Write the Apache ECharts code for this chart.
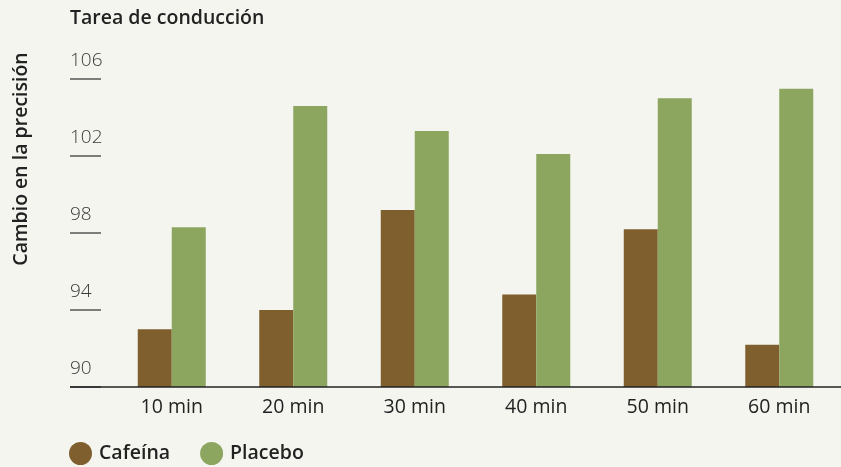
<!DOCTYPE html>
<html>
<head>
<meta charset="utf-8">
<script src="https://cdn.jsdelivr.net/npm/echarts@6/dist/echarts.min.js"></script>
<style>
html,body{margin:0;padding:0;background:#f5f5f0;}
#c{width:841px;height:467px;}
</style>
</head>
<body>
<div id="c"></div>
<script>
const categories = ['10 min', '20 min', '30 min', '40 min', '50 min', '60 min'];
const cafeina = [93.0, 94.0, 99.2, 94.8, 98.2, 92.2];
const placebo = [98.3, 104.6, 103.3, 102.1, 105.0, 105.5];
const seriesNames = ['Cafeína', 'Placebo'];
const chartTitle = 'Tarea de conducción';
const yTitle = 'Cambio en la precisión';

const FONT = '"Open Sans", "Noto Sans", sans-serif';
const chart = echarts.init(document.getElementById('c'), null, {renderer: 'canvas'});
const option = {
  backgroundColor: '#f5f5f0',
  animation: false,
  title: {
    text: chartTitle,
    left: 70, top: 8, padding: 0,
    textStyle: {fontFamily: FONT, fontSize: 19.5, fontWeight: 600, color: '#222'}
  },
  legend: {
    data: seriesNames,
    left: 69, top: 442, padding: 0,
    icon: 'circle',
    itemWidth: 23, itemHeight: 23,
    itemGap: 30,
    textStyle: {fontFamily: FONT, fontSize: 19.5, fontWeight: 600, color: '#222', padding: [0, 0, 0, 2]}
  },
  grid: {left: 111, right: 1, top: 79, bottom: 80, containLabel: false},
  xAxis: {
    type: 'category',
    data: categories,
    axisLine: {show: false},
    axisTick: {show: false},
    axisLabel: {fontFamily: FONT, fontSize: 19.5, color: '#222', margin: 10}
  },
  yAxis: {
    type: 'value',
    min: 90, max: 106, interval: 4,
    offset: 10,
    splitLine: {show: false},
    axisLine: {show: false},
    axisTick: {show: true, length: 31, lineStyle: {color: '#555', width: 1.5}},
    axisLabel: {
      fontFamily: FONT, fontSize: 19, fontWeight: 300, color: '#3a3a3a',
      align: 'left', verticalAlign: 'bottom', margin: 31,
      lineHeight: 19, padding: [0, 0, 9, 0]
    }
  },
  series: [
    {name: seriesNames[0], type: 'bar', data: cafeina, barWidth: 34, barGap: '0%',
     itemStyle: {color: '#7f5f2e'}},
    {name: seriesNames[1], type: 'bar', data: placebo, barWidth: 34, barGap: '0%',
     itemStyle: {color: '#8ca55f'}}
  ]
};
chart.setOption(option);
const baseY = chart.convertToPixel({yAxisIndex: 0}, 90);
chart.setOption({
  graphic: [
    {type: 'line', shape: {x1: 70, y1: baseY, x2: 841, y2: baseY},
     style: {stroke: '#222', lineWidth: 1.5}, z: 10},
    {type: 'text', x: 21, y: 159, rotation: Math.PI / 2,
     style: {text: yTitle, fontFamily: FONT, fontSize: 19.5, fontWeight: 600, fill: '#222',
             align: 'center', verticalAlign: 'middle'}}
  ]
});
</script>
</body>
</html>
